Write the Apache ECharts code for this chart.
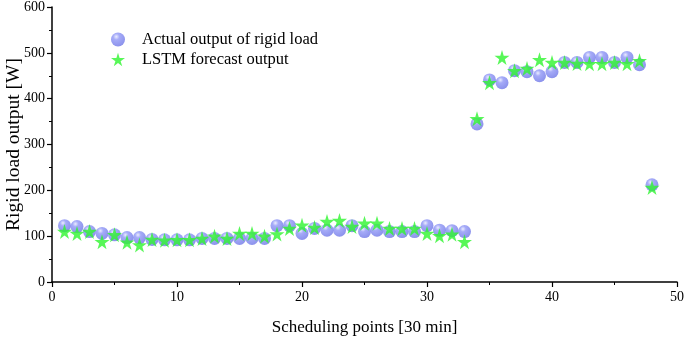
<!DOCTYPE html>
<html>
<head>
<meta charset="utf-8">
<script src="https://cdn.jsdelivr.net/npm/echarts@6/dist/echarts.min.js"></script>
<style>
  html, body { margin: 0; padding: 0; background: #fff; }
  #chart { width: 685px; height: 338px; }
</style>
</head>
<body>
<div id="chart"></div>
<script>
const points = [1, 2, 3, 4, 5, 6, 7, 8, 9, 10, 11, 12, 13, 14, 15, 16, 17, 18, 19, 20, 21, 22, 23, 24,
    25, 26, 27, 28, 29, 30, 31, 32, 33, 34, 35, 36, 37, 38, 39, 40, 41, 42, 43, 44, 45, 46, 47, 48]
const actualOutput = [123, 121, 110, 106, 103, 97, 97, 93, 92, 92, 92, 95, 95, 95, 95, 95, 95, 123, 123, 106,
    117, 113, 113, 123, 110, 113, 110, 110, 110, 123, 113, 112, 110, 345, 441, 435, 461, 459, 450, 459,
    479, 479, 490, 490, 479, 490, 474, 212]
const lstmOutput = [110, 106, 110, 88, 103, 87, 81, 93, 91, 92, 92, 95, 100, 95, 106, 106, 100, 105, 117, 124,
    119, 132, 134, 121, 128, 128, 117, 117, 117, 106, 101, 104, 88, 356, 435, 490, 461, 466, 485, 479,
    479, 477, 476, 476, 479, 476, 483, 206]
const seriesNames = ['Actual output of rigid load', 'LSTM forecast output']

const starPath = 'path://M50,0 L61,35 L98,35 L68,57 L79,91 L50,70 L21,91 L32,57 L2,35 L39,35 Z'
const font = '"Liberation Serif", "Times New Roman", serif'

const ball = new echarts.graphic.RadialGradient(0.38, 0.3, 0.75, [
    { offset: 0, color: '#e6e8ff' },
    { offset: 0.3, color: '#8f96f6' },
    { offset: 1, color: '#6c74e6' }
])

const myChart = echarts.init(document.getElementById('chart'))

const axisCommon = {
    axisLine: { show: true, lineStyle: { color: '#000', width: 1.5 } },
    axisTick: { show: true, inside: false, length: 5, lineStyle: { color: '#000', width: 1.2 } },
    minorTick: { show: true, splitNumber: 2, length: 3, lineStyle: { color: '#000', width: 1 } },
    splitLine: { show: false },
    axisLabel: { color: '#000', fontFamily: font, fontSize: 14 },
    nameTextStyle: { color: '#000', fontFamily: font, fontSize: 17 }
}

myChart.setOption({
    animation: false,
    backgroundColor: '#fff',
    grid: { left: 52, right: 8, top: 7, bottom: 56, containLabel: false, outerBoundsMode: 'none' },
    legend: {
        orient: 'vertical',
        left: 106,
        top: 26,
        itemGap: 3,
        itemWidth: 14,
        itemHeight: 14,
        textStyle: { color: '#000', fontFamily: font, fontSize: 16.5, padding: [0, 0, 0, 12] },
        data: [
            { name: seriesNames[0], icon: 'circle' },
            { name: seriesNames[1], icon: starPath }
        ]
    },
    xAxis: Object.assign({}, axisCommon, {
        type: 'value',
        min: 0,
        max: 50,
        interval: 10,
        name: 'Scheduling points [30 min]',
        nameLocation: 'middle',
        nameGap: 37,
        axisLabel: Object.assign({}, axisCommon.axisLabel, { margin: 8 })
    }),
    yAxis: Object.assign({}, axisCommon, {
        type: 'value',
        min: 0,
        max: 600,
        interval: 100,
        name: 'Rigid load output [W]',
        nameLocation: 'middle',
        nameGap: 28,
        nameMoveOverlap: false,
        nameTextStyle: Object.assign({}, axisCommon.nameTextStyle, { fontSize: 19.5 }),
        axisLabel: Object.assign({}, axisCommon.axisLabel, { margin: 7 })
    }),
    series: [
        {
            name: seriesNames[0],
            type: 'scatter',
            symbol: 'circle',
            symbolSize: 13,
            itemStyle: { color: ball },
            data: points.map((p, i) => [p, actualOutput[i]])
        },
        {
            name: seriesNames[1],
            type: 'scatter',
            symbol: starPath,
            symbolSize: 15,
            itemStyle: { color: '#2ef52e' },
            data: points.map((p, i) => [p, lstmOutput[i]])
        }
    ]
})
</script>
</body>
</html>
